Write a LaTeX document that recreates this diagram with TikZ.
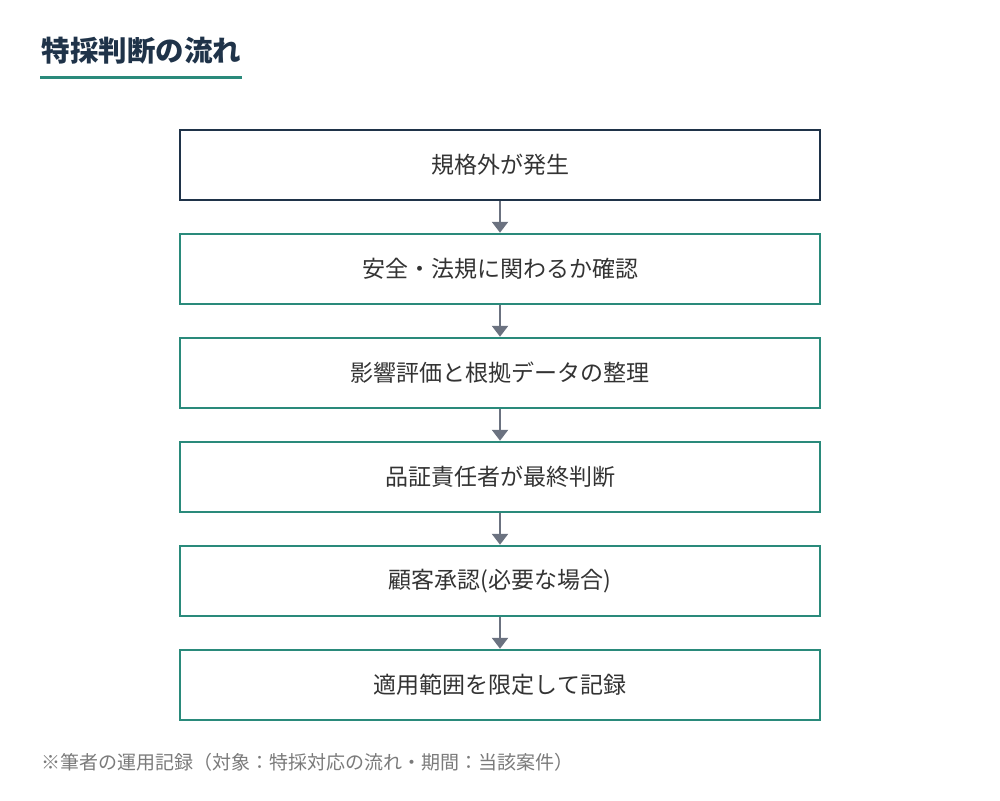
\documentclass[tikz,border=0pt]{standalone}
\usepackage{fontspec}
\setmainfont{Noto Sans CJK JP}
\usepackage{tikz}
\usetikzlibrary{positioning,arrows.meta}
\definecolor{navy}{HTML}{1F3349}
\definecolor{teal}{HTML}{2A8A7B}
\definecolor{arrgray}{HTML}{6B7280}
\definecolor{txtgray}{HTML}{333333}
\definecolor{notegray}{HTML}{7A7A7A}

\begin{document}
\begin{tikzpicture}[x=1pt, y=1pt,
                    stepbox/.style = {draw = teal, line width = 2.5pt, minimum width = 640pt, minimum height = 70pt,
                                      text = txtgray, font = \fontsize{23pt}{27pt}\selectfont},
                    marrow/.style = {draw = arrgray, line width = 2.5pt, arrows = {-Triangle[width=16pt, length=11pt]}}
                ]
                \useasboundingbox (0,0) rectangle (1000,-800);

                \node[anchor = west, text = navy, font = \fontsize{28.5pt}{32pt}\selectfont\bfseries] (title) at (38,-51) {特採判断の流れ};
                \draw[teal, line width = 3pt] (40,-77) -- (242,-77);

                \node[stepbox, draw = navy] (s1) at (500,-165) {規格外が発生};
                \node[stepbox, below = 31.5pt of s1] (s2) {安全・法規に関わるか確認};
                \node[stepbox, below = 31.5pt of s2] (s3) {影響評価と根拠データの整理};
                \node[stepbox, below = 31.5pt of s3] (s4) {品証責任者が最終判断};
                \node[stepbox, below = 31.5pt of s4] (s5) {顧客承認(必要な場合)};
                \node[stepbox, below = 31.5pt of s5] (s6) {適用範囲を限定して記録};

                \foreach \a/\b in {s1/s2, s2/s3, s3/s4, s4/s5, s5/s6}
                    \draw[marrow] (\a.south) -- (\b.north);

                \node[anchor = west, text = notegray, font = \fontsize{19pt}{23pt}\selectfont] (note) at (38,-762) {※筆者の運用記録（対象：特採対応の流れ・期間：当該案件）};
            \end{tikzpicture}
\end{document}
